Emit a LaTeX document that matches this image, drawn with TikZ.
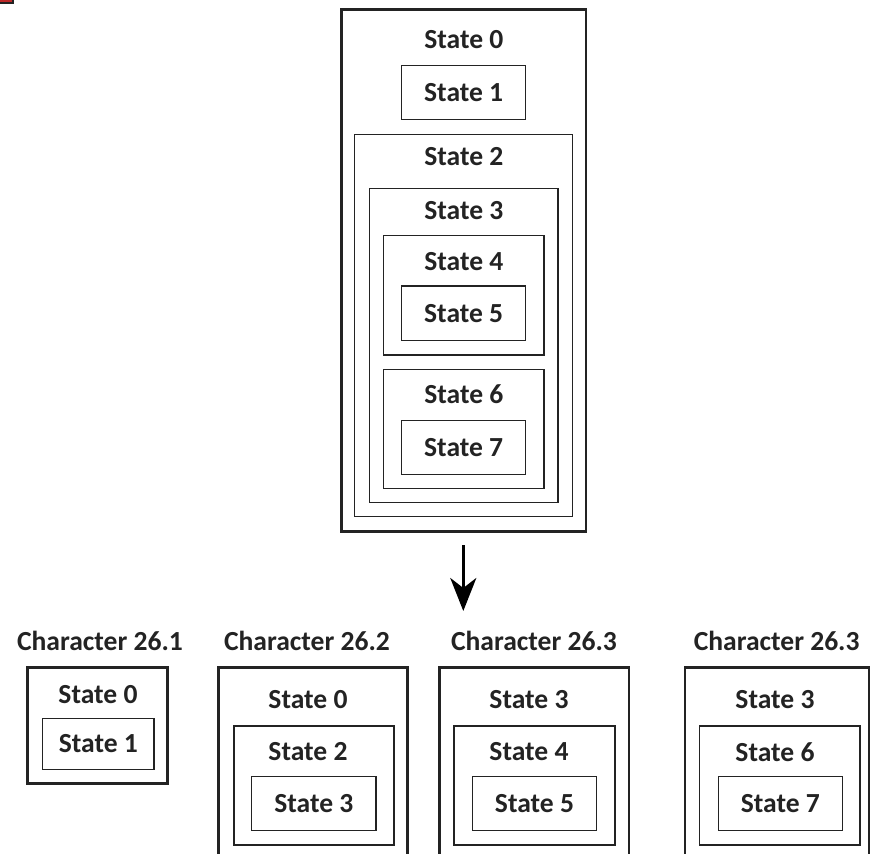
\documentclass[tikz,border=0pt]{standalone}
\usepackage{fontspec}
\setmainfont{Carlito}
\usetikzlibrary{arrows.meta, fit}
\definecolor{boxline}{RGB}{35,35,35}
\definecolor{cropred}{RGB}{190,40,40}

\begin{document}
\begin{tikzpicture}[
  x=0.02cm, y=-0.02cm,
  font=\fontsize{15.7}{18}\selectfont\bfseries,
  outerbox/.style={rectangle, draw=boxline, line width=1.7pt, inner sep=0pt},
  innerbox/.style={rectangle, draw=boxline, line width=0.8pt, inner sep=0pt},
  leafbox/.style={innerbox, label={[lbl]center:#1}},
  lbl/.style={inner sep=0pt, text=boxline},
  arrow/.style={-{Stealth[length=0.66cm, width=0.52cm, inset=0.2cm]}, line width=1.8pt, color=black},
]
  \clip (0,0) rectangle (870,854);
  \fill[cropred, draw=boxline, line width=0.6pt] (-2,-2) rectangle (13,3);

  % State 0 with everything inside
  \node[outerbox, fit={(341.7,9.3) (586,531.7)}] (top0) {};
  \node[lbl] (ttop0) at (463.8,40) {State 0};
  \node[leafbox=State 1, fit={(401.7,65.7) (525.7,119.3)}] (top1) {};
  \node[innerbox, fit={(354.7,134.3) (572.3,516.7)}] (top2) {};
  \node[lbl] (ttop2) at (463.8,157) {State 2};
  \node[innerbox, fit={(369.3,188.3) (558,502.3)}] (top3) {};
  \node[lbl] (ttop3) at (463.8,211) {State 3};
  \node[innerbox, fit={(383.7,235.7) (544,355)}] (top4) {};
  \node[lbl] (ttop4) at (463.8,262) {State 4};
  \node[leafbox=State 5, fit={(401.7,286) (525.7,340.7)}] (top5) {};
  \node[innerbox, fit={(383.7,369.3) (544,488.7)}] (top6) {};
  \node[lbl] (ttop6) at (463.8,394) {State 6};
  \node[leafbox=State 7, fit={(401.7,420.7) (525.7,474.3)}] (top7) {};

  \coordinate (split) at (463.3,611);
  \draw[arrow] (top0.south -| split) ++(0,12) -- (split);

  % Character 26.1
  \node[lbl] (char1) at (100,641) {Character 26.1};
  \node[outerbox, fit={(27.7,667.3) (167.7,783.3)}] (c1s0) {};
  \node[lbl] (tc1s0) at (98,695) {State 0};
  \node[leafbox=State 1, fit={(42.7,718.3) (154,769.3)}] (c1s1) {};

  % Character 26.2
  \node[lbl] (char2) at (307,641) {Character 26.2};
  \node[outerbox, fit={(218.3,667.3) (407.3,880)}] (c2s0) {};
  \node[lbl] (tc2s0) at (308,700) {State 0};
  \node[innerbox, fit={(234,726) (394,845)}] (c2s2) {};
  \node[lbl] (tc2s2) at (308,751.7) {State 2};
  \node[leafbox=State 3, fit={(251.7,776.7) (376,830.7)}] (c2s3) {};

  % Character 26.3
  \node[lbl] (char3) at (534,641) {Character 26.3};
  \node[outerbox, fit={(439.3,667.3) (629,880)}] (c3s3) {};
  \node[lbl] (tc3s3) at (529,700) {State 3};
  \node[innerbox, fit={(454,726) (615,845)}] (c3s4) {};
  \node[lbl] (tc3s4) at (529,751.7) {State 4};
  \node[leafbox=State 5, fit={(472.3,776.7) (596.7,830.7)}] (c3s5) {};

  % Character 26.3, second branch
  \node[lbl] (char4) at (776.7,641) {Character 26.3};
  \node[outerbox, fit={(685,667.3) (869,880)}] (c4s3) {};
  \node[lbl] (tc4s3) at (775,700) {State 3};
  \node[innerbox, fit={(699.3,726) (860,845)}] (c4s6) {};
  \node[lbl] (tc4s6) at (775,751.7) {State 6};
  \node[leafbox=State 7, fit={(718.3,776.7) (842.3,830.7)}] (c4s7) {};
\end{tikzpicture}
\end{document}
